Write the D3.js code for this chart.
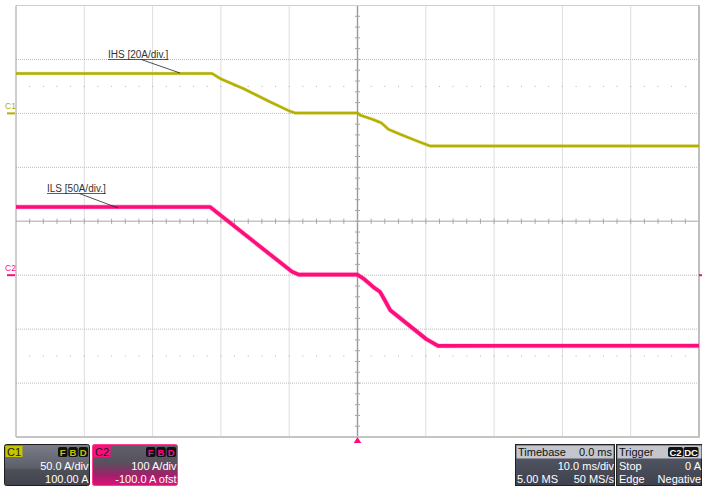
<!DOCTYPE html>
<html>
<head>
<meta charset="utf-8">
<script src="https://cdn.jsdelivr.net/npm/d3@7"></script>
<style>
  html, body { margin: 0; padding: 0; background: #ffffff; }
  svg { display: block; font-family: "Liberation Sans", Arial, sans-serif; }
</style>
</head>
<body>
<svg id="scope" width="702" height="489"></svg>
<script>
// Channel 1 (IHS) — time in ms, current in A (display scale 50 A/div, offset 100 A)
const c1Time = [-50, -21.3, -20.1, -16.7, -12.8, -9.9, -9.15, 0, 0.4, 2.3, 3.5, 4.5, 6.2, 8.7, 10.6, 50];
const c1Amps = [37, 37, 32.3, 23, 10.6, 2, 0.4, 0.4, -1.7, -5.7, -8.9, -14.7, -19.3, -25.6, -30.2, -30.2];
const c1PerDiv = 50;
const c1Offset = 100;

// Channel 2 (ILS) — display scale 100 A/div, offset -100 A
const c2Time = [-50, -21.6, -9.6, -8.6, 0, 0.85, 2.3, 3.3, 4.0, 4.8, 10.1, 11.8, 50];
const c2Amps = [126.5, 126.5, 6.5, 1, 1, -6, -21.8, -31, -46.5, -65, -118.8, -131, -130.8];
const c2PerDiv = 100;
const c2Offset = -100;

// Horizontal: 10 ms/div, 10 divisions, trigger at centre
const timeDomain = [-50, 50];
const hDivs = 10, vDivs = 8;

// Readout panel texts
const c1Readout = ["50.0 A/div", "100.00 A"];
const c2Readout = ["100 A/div", "-100.0 A ofst"];
const timebaseReadout = { title: "Timebase", delay: "0.0 ms", perDiv: "10.0 ms/div", samples: "5.00 MS", rate: "50 MS/s" };
const triggerReadout = { title: "Trigger", src: "C2", coupling: "DC", mode: "Stop", level: "0 A", type: "Edge", slope: "Negative" };

const c1Color = "#b3b000";
const c2Color = "#ff0d7c";
const panelFont = 11;

const svg = d3.select("#scope");
const defs = svg.append("defs");

const L = 16, R = 699, T = 5.5, B = 437;
const x = d3.scaleLinear().domain(timeDomain).range([L, R]);
const yDiv = d3.scaleLinear().domain([-vDivs / 2, vDivs / 2]).range([B, T]);
const cx = x(0), cy = yDiv(0);
const dx = (R - L) / hDivs, dy = (B - T) / vDivs;

const grid = svg.append("g");

// Dotted division lines
d3.range(1, hDivs).filter(i => i !== hDivs / 2).forEach(i => {
  grid.append("line").attr("x1", L + i * dx).attr("x2", L + i * dx).attr("y1", T).attr("y2", B)
    .attr("stroke", "#bcbcbc").attr("stroke-dasharray", "1,1");
});
d3.range(1, vDivs).filter(i => i !== vDivs / 2).forEach(i => {
  grid.append("line").attr("y1", T + i * dy).attr("y2", T + i * dy).attr("x1", L).attr("x2", R)
    .attr("stroke", "#bcbcbc").attr("stroke-dasharray", "1,1");
});

// Minor dot rows at 1.5 divisions from top and bottom
[1.5, vDivs - 1.5].forEach(r => {
  d3.range(1, hDivs * 5).forEach(k => {
    grid.append("rect").attr("x", L + k * dx / 5 - 0.5).attr("y", T + r * dy - 0.5)
      .attr("width", 1).attr("height", 1).attr("fill", "#b0b0b0");
  });
});

// Centre cross with minor ticks
grid.append("line").attr("x1", L).attr("x2", R).attr("y1", cy).attr("y2", cy)
  .attr("stroke", "#c4c4c4").attr("stroke-width", 1.6);
grid.append("line").attr("x1", cx).attr("x2", cx).attr("y1", T).attr("y2", B)
  .attr("stroke", "#9a9a9a").attr("stroke-width", 1.4);
d3.range(1, hDivs * 5).forEach(k => {
  grid.append("line").attr("x1", L + k * dx / 5).attr("x2", L + k * dx / 5)
    .attr("y1", cy - 2.6).attr("y2", cy + 2.6).attr("stroke", "#a8a8a8").attr("stroke-width", 1);
});
d3.range(1, vDivs * 5).forEach(k => {
  grid.append("line").attr("y1", T + k * dy / 5).attr("y2", T + k * dy / 5)
    .attr("x1", cx - 2.6).attr("x2", cx + 2.6).attr("stroke", "#a8a8a8").attr("stroke-width", 1);
});

// Frame
grid.append("line").attr("x1", L).attr("x2", R + 1).attr("y1", T).attr("y2", T).attr("stroke", "#cfcfcf").attr("stroke-width", 1.2);
grid.append("line").attr("x1", L).attr("x2", L).attr("y1", T).attr("y2", B).attr("stroke", "#9c9c9c").attr("stroke-width", 1);
grid.append("line").attr("x1", R).attr("x2", R).attr("y1", T).attr("y2", B).attr("stroke", "#b8b8b8").attr("stroke-width", 1.8);
grid.append("line").attr("x1", L).attr("x2", R + 1).attr("y1", B).attr("y2", B).attr("stroke", "#c4c4c4").attr("stroke-width", 1.8);

// Traces
function channelY(v, perDiv, offset) { return yDiv((v + offset) / perDiv); }

function drawTrace(times, amps, perDiv, offset, color, width) {
  const pts = times.map((t, i) => [t, amps[i]]);
  const line = d3.line().x(d => x(d[0])).y(d => channelY(d[1], perDiv, offset));
  svg.append("path").attr("d", line(pts)).attr("fill", "none").attr("stroke", color)
    .attr("stroke-width", width + 1.2).attr("stroke-opacity", 0.3).attr("stroke-linejoin", "round");
  svg.append("path").attr("d", line(pts)).attr("fill", "none").attr("stroke", color)
    .attr("stroke-width", width).attr("stroke-linejoin", "round");
}
drawTrace(c1Time, c1Amps, c1PerDiv, c1Offset, c1Color, 2.4);
drawTrace(c2Time, c2Amps, c2PerDiv, c2Offset, c2Color, 3.6);

// Channel ground markers
const c1Zero = channelY(0, c1PerDiv, c1Offset);
const c2Zero = channelY(0, c2PerDiv, c2Offset);
svg.append("text").attr("x", 5).attr("y", c1Zero - 4).attr("font-size", 8.5).attr("fill", c1Color).text("C1");
svg.append("line").attr("x1", 7).attr("x2", 15).attr("y1", c1Zero).attr("y2", c1Zero).attr("stroke", c1Color).attr("stroke-width", 2);
svg.append("text").attr("x", 5).attr("y", c2Zero - 4).attr("font-size", 8.5).attr("fill", c2Color).text("C2");
svg.append("line").attr("x1", 7).attr("x2", 15).attr("y1", c2Zero).attr("y2", c2Zero).attr("stroke", c2Color).attr("stroke-width", 2);
svg.append("line").attr("x1", 699).attr("x2", 702).attr("y1", c2Zero).attr("y2", c2Zero).attr("stroke", c2Color).attr("stroke-width", 2);

// Trigger position arrow
svg.append("path").attr("d", `M${cx},${B} L${cx + 3.8},${B + 6} L${cx - 3.8},${B + 6} Z`).attr("fill", c2Color);

// Trace annotations with leader lines
function annotate(label, tx, ty, tipX, tipY) {
  const t = svg.append("text").attr("x", tx).attr("y", ty).attr("font-size", 10).attr("fill", "#333").text(label);
  const w = t.node().getComputedTextLength();
  svg.append("line").attr("x1", tx).attr("x2", tx + w).attr("y1", ty + 2).attr("y2", ty + 2).attr("stroke", "#333").attr("stroke-width", 0.8);
  svg.append("line").attr("x1", tx + w * 0.55).attr("x2", tipX).attr("y1", ty + 2).attr("y2", tipY).attr("stroke", "#222").attr("stroke-width", 0.8);
}
annotate("IHS [20A/div.]", 108, 57.5, 180, 73);
annotate("ILS [50A/div.]", 47, 191.5, 118, 208);

// Readout panels
function gradient(id, stops) {
  const g = defs.append("linearGradient").attr("id", id).attr("x1", 0).attr("x2", 0).attr("y1", 0).attr("y2", 1);
  stops.forEach(s => g.append("stop").attr("offset", s[0]).attr("stop-color", s[1]));
}
gradient("gC1", [[0, "#7a7d87"], [0.58, "#5c5f69"], [0.6, "#4d5059"], [1, "#41434b"]]);
gradient("gC2", [[0, "#5f616b"], [0.45, "#58505e"], [0.75, "#a0206a"], [1, "#e0117a"]]);
gradient("gDark", [[0, "#5a5e6c"], [1, "#3e414c"]]);

function txt(g, s, tx, ty, anchor, fill) {
  g.append("text").attr("x", tx).attr("y", ty).attr("text-anchor", anchor).attr("font-size", panelFont).attr("fill", fill).text(s);
}

function channelPanel(px, color, badge, grad, border, lines) {
  const g = svg.append("g").attr("transform", `translate(${px},444)`);
  g.append("rect").attr("x", 0.5).attr("y", 0.5).attr("width", 85).attr("height", 41).attr("rx", 2)
    .attr("fill", `url(#${grad})`).attr("stroke", border).attr("stroke-width", 1);
  g.append("rect").attr("x", 1.5).attr("y", 2).attr("width", 17).attr("height", 11).attr("fill", color);
  txt(g, badge, 3, 11.5, "start", "#1a1a1a");
  ["F", "B", "D"].forEach((c, i) => {
    g.append("rect").attr("x", 54 + i * 10.3).attr("y", 3).attr("width", 9.5).attr("height", 10).attr("rx", 2).attr("fill", "#111");
    g.append("text").attr("x", 58.7 + i * 10.3).attr("y", 11.8).attr("text-anchor", "middle").attr("font-size", 9.5)
      .attr("font-weight", "bold").attr("fill", color).text(c);
  });
  txt(g, lines[0], 84.5, 26, "end", "#fff");
  txt(g, lines[1], 84.5, 39, "end", "#fff");
}
channelPanel(4, "#c7c400", "C1", "gC1", "#1e1e1e", c1Readout);
channelPanel(92, "#ff0d7c", "C2", "gC2", "#ff3c90", c2Readout);

// Timebase
(function () {
  const g = svg.append("g").attr("transform", "translate(515,444)");
  g.append("rect").attr("x", 0.5).attr("y", 0.5).attr("width", 99).attr("height", 41).attr("fill", "url(#gDark)").attr("stroke", "#222");
  g.append("rect").attr("x", 1.5).attr("y", 1.5).attr("width", 97).attr("height", 13).attr("fill", "#c3c6cd");
  txt(g, timebaseReadout.title, 3, 12, "start", "#111");
  txt(g, timebaseReadout.delay, 97, 12, "end", "#111");
  txt(g, timebaseReadout.perDiv, 99, 26, "end", "#fff");
  txt(g, timebaseReadout.samples, 2, 39, "start", "#fff");
  txt(g, timebaseReadout.rate, 99, 39, "end", "#fff");
})();

// Trigger
(function () {
  const g = svg.append("g").attr("transform", "translate(616,444)");
  g.append("rect").attr("x", 0.5).attr("y", 0.5).attr("width", 85).attr("height", 41).attr("fill", "url(#gDark)").attr("stroke", "#222");
  g.append("rect").attr("x", 1.5).attr("y", 1.5).attr("width", 84).attr("height", 13).attr("fill", "#c3c6cd");
  txt(g, triggerReadout.title, 3, 12, "start", "#111");
  [[triggerReadout.src, 52], [triggerReadout.coupling, 67.5]].forEach(([s, bx]) => {
    g.append("rect").attr("x", bx).attr("y", 3).attr("width", 15).attr("height", 10).attr("rx", 2).attr("fill", "#111");
    g.append("text").attr("x", bx + 7.5).attr("y", 11.8).attr("text-anchor", "middle").attr("font-size", 9.5)
      .attr("font-weight", "bold").attr("fill", "#fff").text(s);
  });
  txt(g, triggerReadout.mode, 3, 26, "start", "#fff");
  txt(g, triggerReadout.level, 85, 26, "end", "#fff");
  txt(g, triggerReadout.type, 3, 39, "start", "#fff");
  txt(g, triggerReadout.slope, 85, 39, "end", "#fff");
})();
</script>
</body>
</html>
